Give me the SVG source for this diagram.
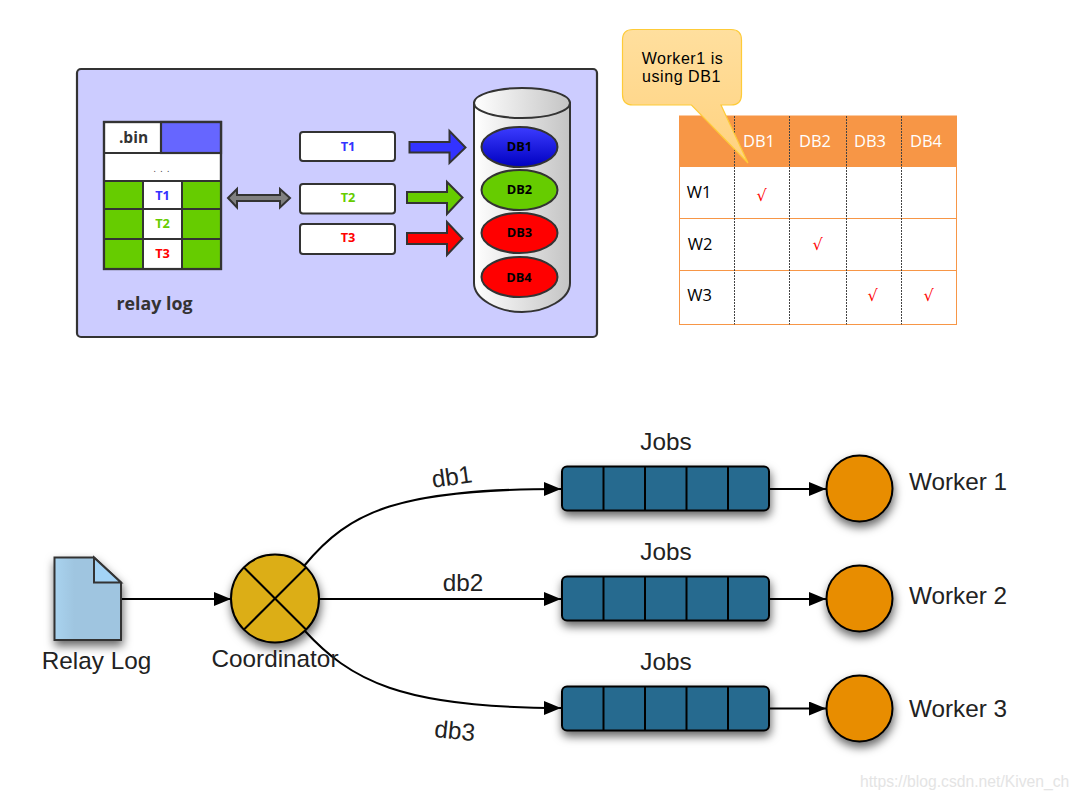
<svg xmlns="http://www.w3.org/2000/svg" width="1079" height="799" viewBox="0 0 1079 799">
<style>
.d{stroke:#333;stroke-width:2.2}
.b{font-family:"Open Sans","Liberation Sans",sans-serif;font-weight:700}
.c{fill:#fff}
.e{stroke:#333;stroke-width:2}
.h{font-family:"Open Sans","Noto Sans",sans-serif;font-size:16.5px;text-anchor:middle}
.n{font-family:"Liberation Sans",sans-serif;font-size:16px;letter-spacing:.55px;text-anchor:middle}
.l{font-family:"Liberation Sans",sans-serif;font-size:24.3px;fill:#222}
.m{text-anchor:middle}
.w{stroke:#000;stroke-width:2;fill:#e88d00;filter:url(#s)}
.q{stroke:#000;stroke-width:2;fill:#266b8f;filter:url(#s)}
.k{stroke:#000;stroke-width:2;fill:none}
.g{stroke:#444;stroke-width:1;stroke-dasharray:2 1;fill:none}
.o{stroke:#f79646;stroke-width:1;fill:none}
.t{font-size:12.8px;text-anchor:middle}
.v{fill:#f00;font-family:"DejaVu Sans",sans-serif;font-size:16px;text-anchor:middle}
</style>
<defs>
<marker id="a" markerUnits="userSpaceOnUse" markerWidth="18" markerHeight="14" refX="17" refY="7" orient="auto"><path d="M0 0L17 7L0 14z" fill="#000"/></marker>
<filter id="s" x="-30%" y="-30%" width="160%" height="180%"><feDropShadow dx="1" dy="5" stdDeviation="5" flood-color="#000" flood-opacity=".6"/></filter>
<linearGradient id="cy"><stop offset="0" stop-color="#fff"/><stop offset="1" stop-color="#c4c4c4"/></linearGradient>
<linearGradient id="bl" x2="0" y2="1"><stop offset="0" stop-color="#3c3cff"/><stop offset="1" stop-color="#0000c0"/></linearGradient>
<linearGradient id="ca" x2="0" y2="1"><stop offset="0" stop-color="#ffdf9e"/><stop offset="1" stop-color="#ffd27f"/></linearGradient>
<linearGradient id="dc"><stop offset="0" stop-color="#a9d3ef"/><stop offset=".3" stop-color="#9fc5e0"/></linearGradient>
</defs>
<rect width="1079" height="799" fill="#fff"/>

<g id="panel"><rect x="77" y="69" width="520" height="268" rx="4" fill="#ccf" class="d"/>
<text x="154.500" y="310" class="b" font-size="17.800" fill="#333" text-anchor="middle">relay log</text></g>

<g id="binlog">
<rect x="104" y="122" width="117" height="147" fill="#fff" class="d"/>
<rect x="161" y="122" width="60" height="31" fill="#66f" class="d"/>
<path d="M104 153H221" class="d" stroke-width="3"/>
<rect x="104" y="181" width="39" height="28" fill="#6c0" class="e"/><rect x="182" y="181" width="39" height="28" fill="#6c0" class="e"/>
<rect x="104" y="209" width="39" height="30" fill="#6c0" class="e"/><rect x="182" y="209" width="39" height="30" fill="#6c0" class="e"/>
<rect x="104" y="239" width="39" height="30" fill="#6c0" class="e"/><rect x="182" y="239" width="39" height="30" fill="#6c0" class="e"/>
<rect x="143" y="181" width="39" height="28" class="c e"/><rect x="143" y="209" width="39" height="30" class="c e"/><rect x="143" y="239" width="39" height="30" class="c e"/>
<rect x="104" y="122" width="117" height="147" fill="none" class="d"/>
<text x="133.500" y="143" class="b" font-size="15.500" fill="#333" text-anchor="middle">.bin</text>
<text x="162" y="172" font-family="Open Sans,sans-serif" font-size="9" fill="#333" text-anchor="middle" letter-spacing="1">. . .</text>
<text x="162.500" y="200" class="b t" fill="#33f">T1</text>
<text x="162.500" y="228" class="b t" fill="#6c0">T2</text>
<text x="162.500" y="258" class="b t" fill="#f00">T3</text>
</g>

<g id="trx">
<rect x="300" y="132" width="95" height="29" rx="3" class="c e"/><rect x="300" y="184" width="95" height="29.500" rx="3" class="c e"/><rect x="300" y="224" width="95" height="30" rx="3" class="c e"/>
<text x="348" y="151" class="b t" fill="#33f">T1</text>
<text x="348" y="202" class="b t" fill="#6c0">T2</text>
<text x="348" y="242" class="b t" fill="#f00">T3</text>
</g>

<g id="connectors-top">
<path d="M228 198L237 189V195H280V189L290 198L280 207.500V201H237V207.500z" fill="#808080" class="e"/>
<path d="M409.500 142H449.500V131L465.500 147.500L449.500 163V152.500H409.500z" fill="#33f" class="e"/>
<path d="M407 192H447V182L462.500 197.500L447 214V203H407z" fill="#6c0" class="e"/>
<path d="M407 233H447V222L462.500 238.500L447 255V244H407z" fill="#f00" class="e"/>
</g>

<g id="cylinder">
<path d="M474 103V283C474 299 498 312 522 312C546 312 570 299 570 283V103z" fill="url(#cy)" class="e"/>
<ellipse cx="522" cy="103" rx="48" ry="15" fill="url(#cy)" class="e"/>
<ellipse cx="519.500" cy="147" rx="38" ry="20" fill="url(#bl)" class="e"/>
<ellipse cx="519.500" cy="190" rx="38" ry="20" fill="#6c0" class="e"/>
<ellipse cx="519.500" cy="233" rx="38" ry="20" fill="#f00" class="e"/>
<ellipse cx="519.500" cy="277" rx="38" ry="20" fill="#f00" class="e"/>
<g class="b t" fill="#000"><text x="519.500" y="151">DB1</text><text x="519.500" y="194">DB2</text><text x="519.500" y="237">DB3</text><text x="519" y="282">DB4</text></g>
</g>

<g id="matrix">
<rect x="679.500" y="116" width="277" height="51" fill="#f79646"/>
<rect x="679.500" y="116" width="277" height="208.500" class="o"/>
<path d="M679.500 218.500H956.500M679.500 270.500H956.500" class="o"/>
<path d="M734.500 116V324.500M789.500 116V324.500M846.500 116V324.500M901.500 116V324.500" class="g"/>
<g class="h" fill="#fff"><text x="759" y="147">DB1</text><text x="815" y="147">DB2</text><text x="870" y="147">DB3</text><text x="926" y="147">DB4</text></g>
<g class="h" fill="#000"><text x="699" y="198">W1</text><text x="700" y="250">W2</text><text x="699.500" y="301">W3</text></g>
<g class="v"><text x="761.500" y="201">√</text><text x="817.500" y="250">√</text><text x="872.500" y="301">√</text><text x="928.500" y="301">√</text></g>
</g>

<g id="callout">
<path d="M633 29.500H731Q741.500 29.500 741.500 40V94.500Q741.500 105 731 105H721L748 163L691.500 105H633Q622.500 105 622.500 94.500V40Q622.500 29.500 633 29.500z" fill="url(#ca)" stroke="#fecb38" stroke-width="1.200"/>
<text class="n" fill="#000"><tspan x="682.500" y="63.500">Worker1 is</tspan><tspan x="681.500" y="82">using DB1</tspan></text>
</g>

<g id="connectors" fill="none" stroke="#000" stroke-width="2">
<path d="M121 599H231" marker-end="url(#a)"/>
<path d="M319 599H561" marker-end="url(#a)"/>
<path d="M304 566C350 510 400 489 561 489" marker-end="url(#a)"/>
<path d="M304 630C350 680 400 708 561 708" marker-end="url(#a)"/>
<path d="M769 489H826" marker-end="url(#a)"/>
<path d="M769 599H826" marker-end="url(#a)"/>
<path d="M769 708.500H826" marker-end="url(#a)"/>
</g>

<g id="relay-log">
<path d="M54.500 557.500H94L121 582.500V640H54.500z" fill="url(#dc)" stroke="#333" stroke-width="2" filter="url(#s)"/>
<path d="M94 557.500L121 582.500H94z" fill="#a3d3f5" stroke="#333" stroke-width="2"/>
<text x="96.500" y="669" class="l m">Relay Log</text>
</g>

<g id="coordinator">
<circle cx="275" cy="598.500" r="44" fill="#dcae19" stroke="#000" stroke-width="2" filter="url(#s)"/>
<path d="M244 567.500L306 629.500M306 567.500L244 629.500" class="k"/>
<text x="275" y="667" class="l m">Coordinator</text>
</g>

<g id="queue1"><rect x="562" y="466.500" width="207" height="44" rx="5" class="q"/><path d="M603.500 466.500V510.500M645 466.500V510.500M686.500 466.500V510.500M728 466.500V510.500" class="k"/><text x="666" y="450" class="l m">Jobs</text></g>
<g id="queue2"><rect x="562" y="576.500" width="207" height="44" rx="5" class="q"/><path d="M603.500 576.500V620.500M645 576.500V620.500M686.500 576.500V620.500M728 576.500V620.500" class="k"/><text x="666" y="560" class="l m">Jobs</text></g>
<g id="queue3"><rect x="562" y="686.500" width="207" height="44" rx="5" class="q"/><path d="M603.500 686.500V730.500M645 686.500V730.500M686.500 686.500V730.500M728 686.500V730.500" class="k"/><text x="666" y="670" class="l m">Jobs</text></g>

<g id="worker1"><circle cx="859.500" cy="488.500" r="33" class="w"/><text x="909" y="490" class="l">Worker 1</text></g>
<g id="worker2"><circle cx="859.500" cy="598.500" r="33" class="w"/><text x="909" y="604" class="l">Worker 2</text></g>
<g id="worker3"><circle cx="859.500" cy="708.500" r="33" class="w"/><text x="909" y="717" class="l">Worker 3</text></g>

<g id="labels">
<text transform="translate(453 485) rotate(-8)" class="l m">db1</text>
<text x="463" y="591" class="l m">db2</text>
<text transform="translate(454 739) rotate(6)" class="l m">db3</text>
</g>
<text x="860" y="787" font-family="Liberation Sans,sans-serif" font-size="15.700" fill="#e4e4e4">https://blog.csdn.net/Kiven_ch</text>
</svg>
